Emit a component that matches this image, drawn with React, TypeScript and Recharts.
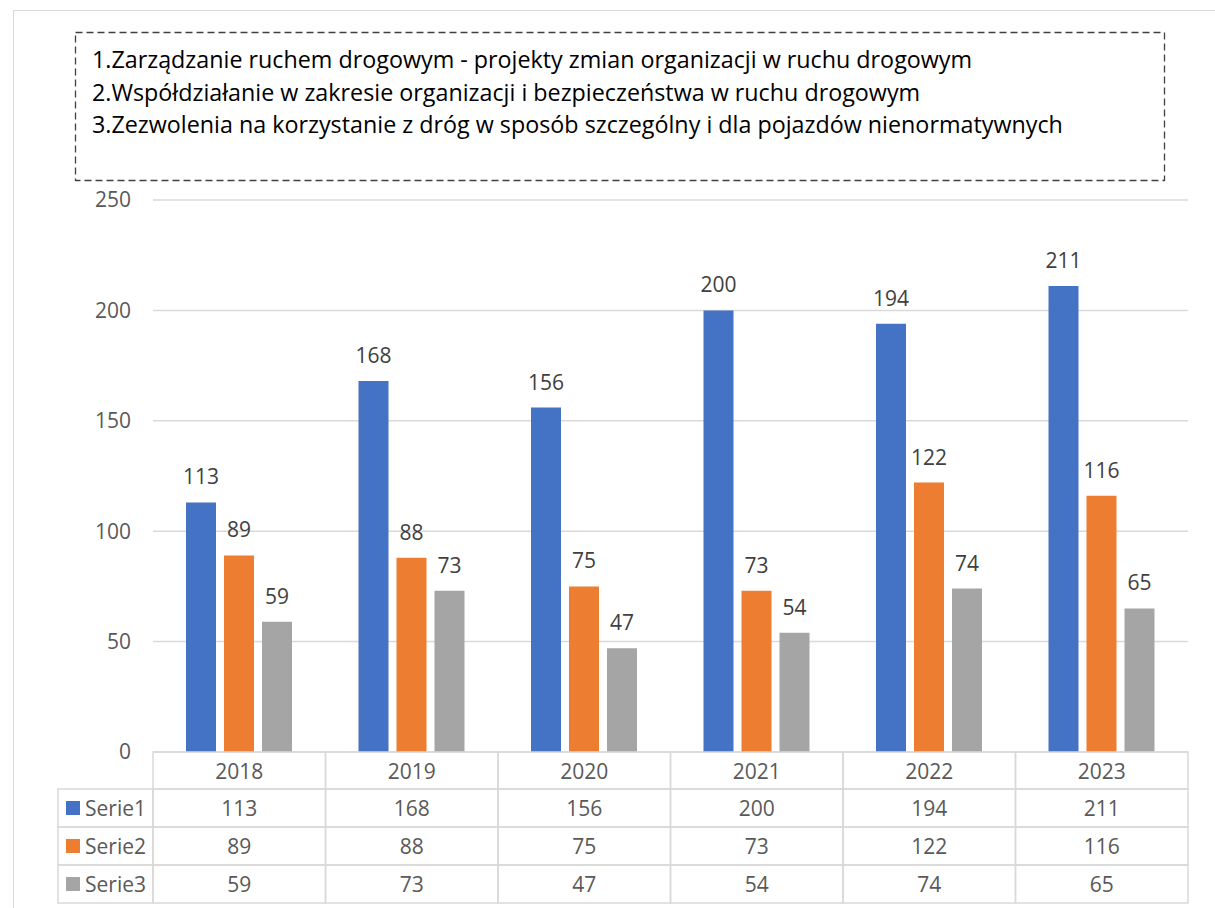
import React from 'react';
import { BarChart, Bar, XAxis, YAxis, CartesianGrid, LabelList } from 'recharts';

const categories = ['2018', '2019', '2020', '2021', '2022', '2023'];
const serie1 = [113, 168, 156, 200, 194, 211];
const serie2 = [89, 88, 75, 73, 122, 116];
const serie3 = [59, 73, 47, 54, 74, 65];
const seriesNames = ['Serie1', 'Serie2', 'Serie3'];
const yTicks = [0, 50, 100, 150, 200, 250];
const noteLines = [
  '1.Zarządzanie ruchem drogowym - projekty zmian organizacji w ruchu drogowym',
  '2.Współdziałanie w zakresie organizacji i bezpieczeństwa w ruchu drogowym',
  '3.Zezwolenia na korzystanie z dróg w sposób szczególny i dla pojazdów nienormatywnych',
];

const COLORS = ['#4472C4', '#ED7D31', '#A5A5A5'];
const FONT = '"Open Sans", sans-serif';
const W = 1215;
const H = 908;
const M = { top: 200, right: 27, left: 0, bottom: 5 };
const YW = 153;
const XH = 151;
const PLOT_W = W - M.right - YW;
const ROW_H = 38;
const HEAD_H = 37;
const LEFT_COL = 95;
const GRID = '#d9d9d9';
const FS = 21;

const data = categories.map((c, i) => ({ year: c, s1: serie1[i], s2: serie2[i], s3: serie3[i] }));
const allSeries = [serie1, serie2, serie3];

const TableTick = (props: any) => {
  const { x, y, payload, index } = props;
  const bw = PLOT_W / categories.length;
  const left = x - bw / 2;
  const i = payload.index ?? index;
  const textStyle = { fontFamily: FONT, fontSize: FS, fill: '#595959' };
  return (
    <g>
      <rect x={left} y={y} width={bw} height={HEAD_H} fill="none" stroke={GRID} strokeWidth={1.5} />
      <text x={x} y={y + HEAD_H / 2} textAnchor="middle" dominantBaseline="central" style={textStyle}>
        {payload.value}
      </text>
      {allSeries.map((s, r) => (
        <g key={r}>
          <rect x={left} y={y + HEAD_H + r * ROW_H} width={bw} height={ROW_H} fill="none" stroke={GRID} strokeWidth={1.5} />
          <text x={x} y={y + HEAD_H + r * ROW_H + ROW_H / 2} textAnchor="middle" dominantBaseline="central" style={textStyle}>
            {s[i]}
          </text>
        </g>
      ))}
      {i === 0 &&
        seriesNames.map((n, r) => (
          <g key={n}>
            <rect x={left - LEFT_COL} y={y + HEAD_H + r * ROW_H} width={LEFT_COL} height={ROW_H} fill="none" stroke={GRID} strokeWidth={1.5} />
            <rect x={left - LEFT_COL + 8} y={y + HEAD_H + r * ROW_H + ROW_H / 2 - 7} width={14} height={14} fill={COLORS[r]} />
            <text x={left - LEFT_COL + 27} y={y + HEAD_H + r * ROW_H + ROW_H / 2} dominantBaseline="central" style={textStyle}>
              {n}
            </text>
          </g>
        ))}
    </g>
  );
};

export default function App() {
  return (
    <div style={{ position: 'absolute', left: 0, top: 0, width: W, height: H, background: '#fff', overflow: 'hidden' }}>
      <div style={{ position: 'absolute', left: 13, top: 10, width: W, height: H, border: '1.5px solid #d9d9d9', boxSizing: 'border-box' }} />
      <svg style={{ position: 'absolute', left: 0, top: 0 }} width={W} height={200}>
        <rect x={75.5} y={32.5} width={1089} height={148} fill="none" stroke="#404040" strokeWidth={1.3} strokeDasharray="7 4" />
      </svg>
      <div
        style={{
          position: 'absolute',
          left: 75,
          top: 32,
          width: 1090,
          height: 149,
          boxSizing: 'border-box',
          fontFamily: FONT,
          fontSize: 23.3,
          color: '#000',
          padding: '11px 0 0 17px',
          lineHeight: '32.5px',
        }}
      >
        {noteLines.map((l) => (
          <div key={l} style={{ whiteSpace: 'nowrap' }}>{l}</div>
        ))}
      </div>
      <div style={{ position: 'absolute', left: 0, top: 0 }}>
        <BarChart width={W} height={H} data={data} margin={M} barSize={30} barGap={8}>
          <CartesianGrid vertical={false} stroke={GRID} strokeWidth={1.5} />
          <XAxis
            dataKey="year"
            height={XH}
            axisLine={false}
            tickLine={false}
            tickSize={0}
            tickMargin={0}
            interval={0}
            tick={<TableTick />}
          />
          <YAxis
            width={YW}
            domain={[0, 250]}
            ticks={yTicks}
            axisLine={false}
            tickLine={false}
            tickSize={0}
            tickMargin={22}
            tick={{ fontFamily: FONT, fontSize: FS, fill: '#595959' }}
          />
          {['s1', 's2', 's3'].map((k, i) => (
            <Bar key={k} dataKey={k} fill={COLORS[i]} isAnimationActive={false}>
              <LabelList dataKey={k} position="top" offset={18} style={{ fontFamily: FONT, fontSize: FS, fill: '#404040' }} />
            </Bar>
          ))}
        </BarChart>
      </div>
    </div>
  );
}
